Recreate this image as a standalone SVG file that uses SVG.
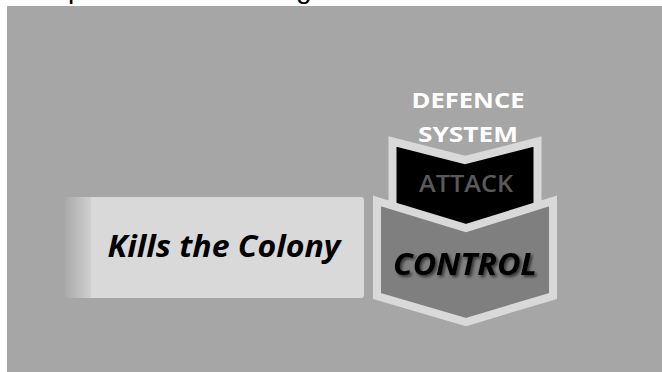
<svg xmlns="http://www.w3.org/2000/svg" width="662" height="372" viewBox="0 0 662 372">
  <style>
    .lbl { font-family: "Open Sans", "Noto Sans", "DejaVu Sans", sans-serif; font-weight: bold; }
    .chev-border { stroke: #d9d9d9; stroke-width: 8; stroke-linejoin: miter; }
  </style>
  <defs>
    <linearGradient id="curl" x1="0" y1="0" x2="1" y2="0">
      <stop offset="0" stop-color="#a9a9a9"/>
      <stop offset="1" stop-color="#d0d0d0"/>
    </linearGradient>
    <filter id="shadow" x="-10%" y="-20%" width="130%" height="160%">
      <feGaussianBlur in="SourceAlpha" stdDeviation="1.5"/>
      <feOffset dx="1.5" dy="2" result="b"/>
      <feComponentTransfer><feFuncA type="linear" slope="0.6"/></feComponentTransfer>
      <feMerge><feMergeNode/><feMergeNode in="SourceGraphic"/></feMerge>
    </filter>
  </defs>
  <rect x="0" y="0" width="662" height="372" fill="#ffffff"/>
  <text x="68" y="-2" font-family="Liberation Sans, Arial, sans-serif" font-size="28" fill="#000">p</text>
  <text x="296" y="-2" font-family="Liberation Sans, Arial, sans-serif" font-size="28" fill="#000">g</text>
  <rect x="7" y="6" width="655" height="366" fill="#a6a6a6"/>

  <g id="connectors"></g>

  <g id="kills-box">
    <rect x="88" y="197" width="276" height="101" rx="3" fill="#d9d9d9"/>
    <rect x="65" y="197" width="26" height="101" fill="url(#curl)"/>
    <text class="lbl" x="224" y="257" font-size="30" font-style="italic" fill="#000" text-anchor="middle" textLength="233" lengthAdjust="spacingAndGlyphs">Kills the Colony</text>
  </g>

  <g id="defence-label">
    <text class="lbl" x="468" y="108" font-size="22" fill="#ffffff" text-anchor="middle" textLength="113" lengthAdjust="spacingAndGlyphs">DEFENCE</text>
    <text class="lbl" x="468" y="142" font-size="22" fill="#ffffff" text-anchor="middle" textLength="100" lengthAdjust="spacingAndGlyphs">SYSTEM</text>
  </g>

  <g id="attack">
    <polygon class="chev-border" points="392.5,141.5 465,160 537.5,141.5 537.5,215 465,233 392.5,215" fill="#000000" stroke-width="7"/>
    <text x="466" y="192" font-family="Open Sans, Noto Sans, sans-serif" font-weight="600" font-size="23" fill="#595959" text-anchor="middle" textLength="94" lengthAdjust="spacingAndGlyphs">ATTACK</text>
  </g>

  <g id="control">
    <polygon class="chev-border" points="377,201 466,228 553,201 553,296 466,322 377,296" fill="#7f7f7f"/>
    <text class="lbl" x="465" y="275" font-size="30" font-style="italic" fill="#000" text-anchor="middle" textLength="144" lengthAdjust="spacingAndGlyphs" filter="url(#shadow)">CONTROL</text>
  </g>
</svg>
